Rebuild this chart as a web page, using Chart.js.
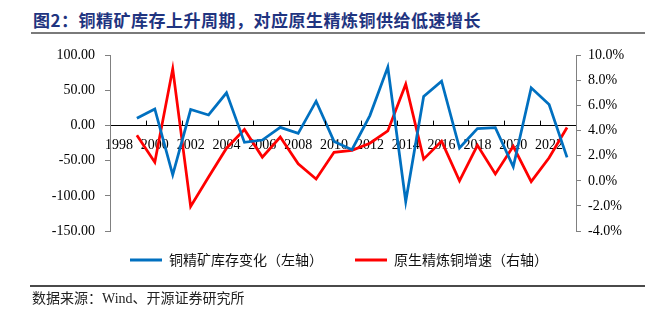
<!DOCTYPE html>
<html lang="zh">
<head>
<meta charset="UTF-8">
<title>铜精矿库存与原生精炼铜</title>
<style>
    body {
        margin: 0;
        background: #fff;
        width: 656px;
        height: 314px;
        overflow: hidden;
        position: relative;
        font-family: "Noto Sans CJK SC", sans-serif;
    }
    .title {
        position: absolute;
        left: 33px;
        top: 7px;
        font-size: 17px;
        letter-spacing: 0.5px;
        font-weight: bold;
        color: #1f3480;
        white-space: nowrap;
    }
    .rule-top {
        position: absolute;
        left: 31px;
        top: 32px;
        width: 614px;
        height: 2px;
        background: #7a7a7a;
    }
    .rule-bottom {
        position: absolute;
        left: 30px;
        top: 285px;
        width: 615px;
        height: 2px;
        background: #4a4a4a;
    }
    .source {
        position: absolute;
        left: 32px;
        top: 287px;
        font-size: 14px;
        color: #222;
        font-family: "Liberation Serif", "Noto Sans CJK SC", serif;
        white-space: nowrap;
    }
    .chart-box {
        position: absolute;
        left: 0;
        top: 37px;
        width: 656px;
        height: 250px;
    }
</style>
</head>
<body>
    <div class="title">图2：铜精矿库存上升周期，对应原生精炼铜供给低速增长</div>
    <div class="rule-top"></div>

    <div class="chart-box">
        <canvas id="chart"></canvas>
    </div>

    <div class="rule-bottom"></div>
    <div class="source">数据来源：Wind、开源证券研究所</div>

    <script src="https://cdn.jsdelivr.net/npm/chart.js"></script>
    <script>
        // years on the category axis (1998 has no data)
        const years = ['1998', '1999', '2000', '2001', '2002', '2003', '2004', '2005', '2006',
            '2007', '2008', '2009', '2010', '2011', '2012', '2013', '2014', '2015', '2016',
            '2017', '2018', '2019', '2020', '2021', '2022', '2023'];

        // 铜精矿库存变化 (left axis)
        const inventoryChange = [null, 10.4, 23.8, -70, 22.9, 15.2, 46.7, -23.8, -20.5,
            -2.4, -11, 34.8, -22.4, -34.3, 14.3, 83.3, -108, 41.4, 63.3,
            -31.9, -4.3, -2.9, -58.6, 53.8, 30, -45.2];

        // 原生精炼铜增速, % (right axis)
        const refinedGrowth = [null, 3.63, 1.49, 8.93, -2.05, 0.3, 2.6, 4.09, 1.89,
            3.49, 1.36, 0.15, 2.27, 2.43, 3.0, 3.98, 7.7, 1.73, 3.17,
            0.0, 2.83, 0.55, 2.75, -0.06, 1.84, 4.25];

        const leftTicks = [100, 50, 0, -50, -100, -150];
        const rightTicks = [10, 8, 6, 4, 2, 0, -2, -4];

        const seriesNames = ['铜精矿库存变化（左轴）', '原生精炼铜增速（右轴）'];

        const tickFont = { family: "'Liberation Serif', 'Times New Roman', serif", size: 14 };

        // small upward tick marks on the x axis, every two years
        const xTickMarks = {
            id: 'xTickMarks',
            afterDatasetsDraw(chart) {
                const x = chart.scales.x;
                const zero = chart.scales.yLeft.getPixelForValue(0);
                const step = x.getPixelForValue(1) - x.getPixelForValue(0);
                const ctx = chart.ctx;
                ctx.save();
                ctx.strokeStyle = '#000';
                ctx.lineWidth = 1;
                ctx.beginPath();
                for (let i = 2; i < years.length; i += 2) {
                    const px = Math.round(x.getPixelForValue(i) - step / 2) + 0.5;
                    ctx.moveTo(px, zero);
                    ctx.lineTo(px, zero - 5);
                }
                ctx.stroke();
                ctx.restore();
            }
        };

        // pull the legend a little closer to the plot
        const legendNudge = {
            id: 'legendNudge',
            afterLayout(chart) {
                chart.legend.top -= 10;
                chart.legend.bottom -= 10;
            }
        };

        new Chart(document.getElementById('chart'), {
            type: 'line',
            data: {
                labels: years,
                datasets: [{
                    label: seriesNames[0],
                    data: inventoryChange,
                    yAxisID: 'yLeft',
                    borderColor: '#0070c0',
                    backgroundColor: '#0070c0',
                    borderWidth: 2.75,
                    pointRadius: 0,
                    tension: 0
                }, {
                    label: seriesNames[1],
                    data: refinedGrowth,
                    yAxisID: 'yRight',
                    borderColor: '#ff0000',
                    backgroundColor: '#ff0000',
                    borderWidth: 2.75,
                    pointRadius: 0,
                    tension: 0
                }]
            },
            options: {
                responsive: true,
                maintainAspectRatio: false,
                animation: false,
                layout: {
                    padding: { left: 22, top: 12, right: 0, bottom: 0 }
                },
                plugins: {
                    tooltip: { enabled: false },
                    legend: {
                        position: 'bottom',
                        labels: {
                            boxWidth: 32,
                            boxHeight: 3,
                            padding: 32,
                            color: '#111',
                            font: { family: "'Noto Sans CJK SC', sans-serif", size: 14 },
                            generateLabels: (chart) => Chart.defaults.plugins.legend.labels
                                .generateLabels(chart).map(l => ({ ...l, lineWidth: 0 }))
                        }
                    }
                },
                scales: {
                    x: {
                        type: 'category',
                        position: { yLeft: 0 },
                        offset: true,
                        grid: { display: false },
                        border: { display: true, color: '#000', width: 1 },
                        ticks: {
                            autoSkip: false,
                            maxRotation: 0,
                            padding: 3,
                            color: '#000',
                            font: tickFont,
                            callback: (v, i) => (i % 2 === 0 ? years[i] : '')
                        }
                    },
                    yLeft: {
                        position: 'left',
                        min: -150,
                        max: 100,
                        afterBuildTicks: (s) => { s.ticks = leftTicks.map(v => ({ value: v })); },
                        afterFit: (s) => { s.width = 88; },
                        grid: { drawOnChartArea: false, tickLength: 5, color: '#808080' },
                        border: { color: '#808080', width: 1 },
                        ticks: {
                            padding: 10,
                            color: '#000',
                            font: tickFont,
                            callback: (v) => v.toFixed(2)
                        }
                    },
                    yRight: {
                        position: 'right',
                        min: -4,
                        max: 10,
                        afterBuildTicks: (s) => { s.ticks = rightTicks.map(v => ({ value: v })); },
                        afterFit: (s) => { s.width = 80; },
                        grid: { drawOnChartArea: false, tickLength: 5, color: '#808080' },
                        border: { color: '#808080', width: 1 },
                        ticks: {
                            padding: 7,
                            color: '#000',
                            font: tickFont,
                            callback: (v) => v.toFixed(1) + '%'
                        }
                    }
                }
            },
            plugins: [xTickMarks, legendNudge]
        });
    </script>
</body>
</html>
